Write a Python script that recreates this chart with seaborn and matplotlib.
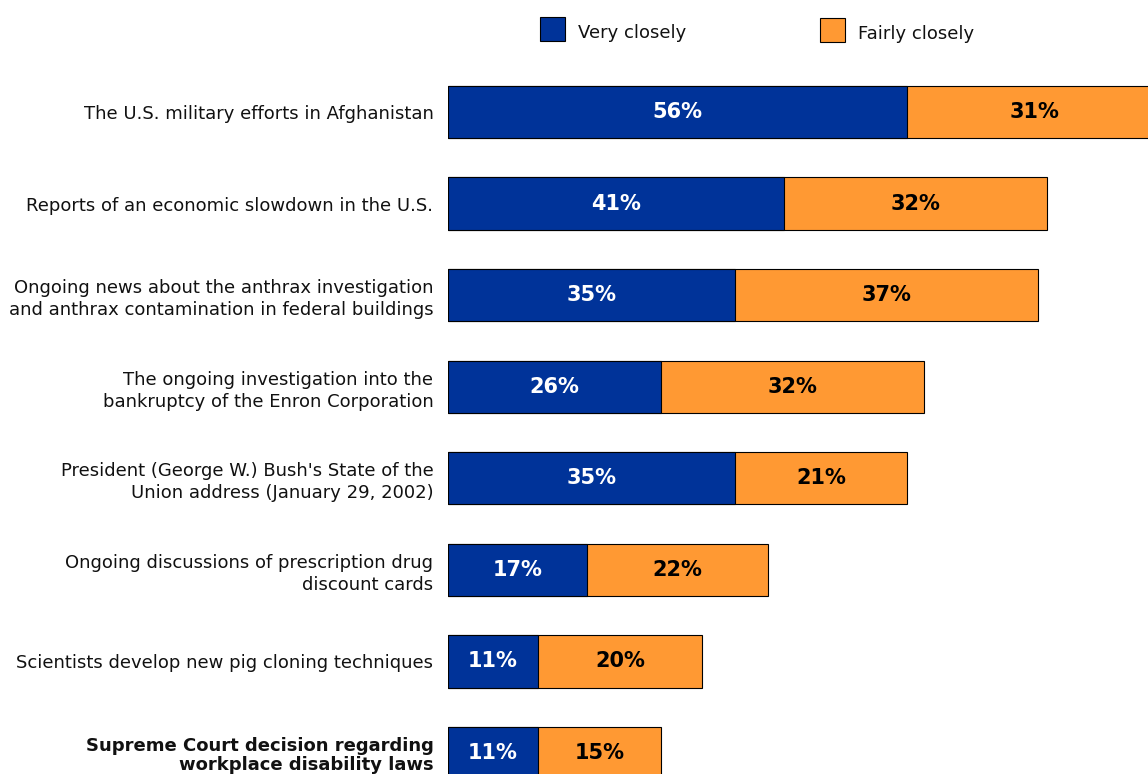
import matplotlib
matplotlib.use("Agg")
import matplotlib.pyplot as plt
import matplotlib.patches as mpatches
import seaborn as sns
import pandas as pd

# news stories and how closely people followed them (%)
stories = [
    "The U.S. military efforts in Afghanistan",
    "Reports of an economic slowdown in the U.S.",
    "Ongoing news about the anthrax investigation\nand anthrax contamination in federal buildings",
    "The ongoing investigation into the\nbankruptcy of the Enron Corporation",
    "President (George W.) Bush's State of the\nUnion address (January 29, 2002)",
    "Ongoing discussions of prescription drug\ndiscount cards",
    "Scientists develop new pig cloning techniques",
    "Supreme Court decision regarding\nworkplace disability laws",
]
very_closely = [56, 41, 35, 26, 35, 17, 11, 11]
fairly_closely = [31, 32, 37, 32, 21, 22, 20, 15]

BLUE = "#003399"
ORANGE = "#FF9933"

df = pd.DataFrame({"story": stories, "very": very_closely, "fairly": fairly_closely})
df["total"] = df["very"] + df["fairly"]

sns.set_style("white")
plt.rcParams["font.family"] = ["DejaVu Sans"]

fig = plt.figure(figsize=(11.48, 7.74), dpi=100)
ax = fig.add_axes([448 / 1148, 0, 1 - 448 / 1148, 1])

bar_h = 0.57
sns.barplot(data=df, y="story", x="total", color=ORANGE, saturation=1,
            width=bar_h, edgecolor="black", linewidth=0.8, ax=ax, orient="h")
sns.barplot(data=df, y="story", x="very", color=BLUE, saturation=1,
            width=bar_h, edgecolor="black", linewidth=0.8, ax=ax, orient="h")

ax.set_xlim(0, 700 / 8.2)
ax.set_ylim(7 + 21 / 91.6, -112 / 91.6)
ax.set_xlabel("")
ax.set_ylabel("")
ax.set_xticks([])
sns.despine(ax=ax, left=True, bottom=True, right=True, top=True)
ax.tick_params(axis="y", length=0, pad=10.5, labelsize=13, labelcolor="#111111")
for i, lab in enumerate(ax.get_yticklabels()):
    lab.set_linespacing(1.3)
    if i == len(stories) - 1:
        lab.set_fontweight("bold")
        lab.set_linespacing(1.1)

for i, (v, f) in enumerate(zip(very_closely, fairly_closely)):
    ax.text(v / 2, i, f"{v}%", ha="center", va="center", color="white",
            fontsize=15, fontweight="bold")
    ax.text(v + f / 2, i, f"{f}%", ha="center", va="center", color="black",
            fontsize=15, fontweight="bold")

# legend at top
for x0, y0, lab, col in [(540, 17, "Very closely", BLUE), (820, 18, "Fairly closely", ORANGE)]:
    fig.patches.append(mpatches.Rectangle((x0 / 1148, 1 - (y0 + 24) / 774), 25 / 1148, 24 / 774,
                                          transform=fig.transFigure, facecolor=col,
                                          edgecolor="black", linewidth=0.8))
    fig.text((x0 + 38) / 1148, 1 - (y0 + 16) / 774, lab, ha="left", va="center",
             fontsize=13, color="#111111")

fig.savefig("out.png", dpi=100)
